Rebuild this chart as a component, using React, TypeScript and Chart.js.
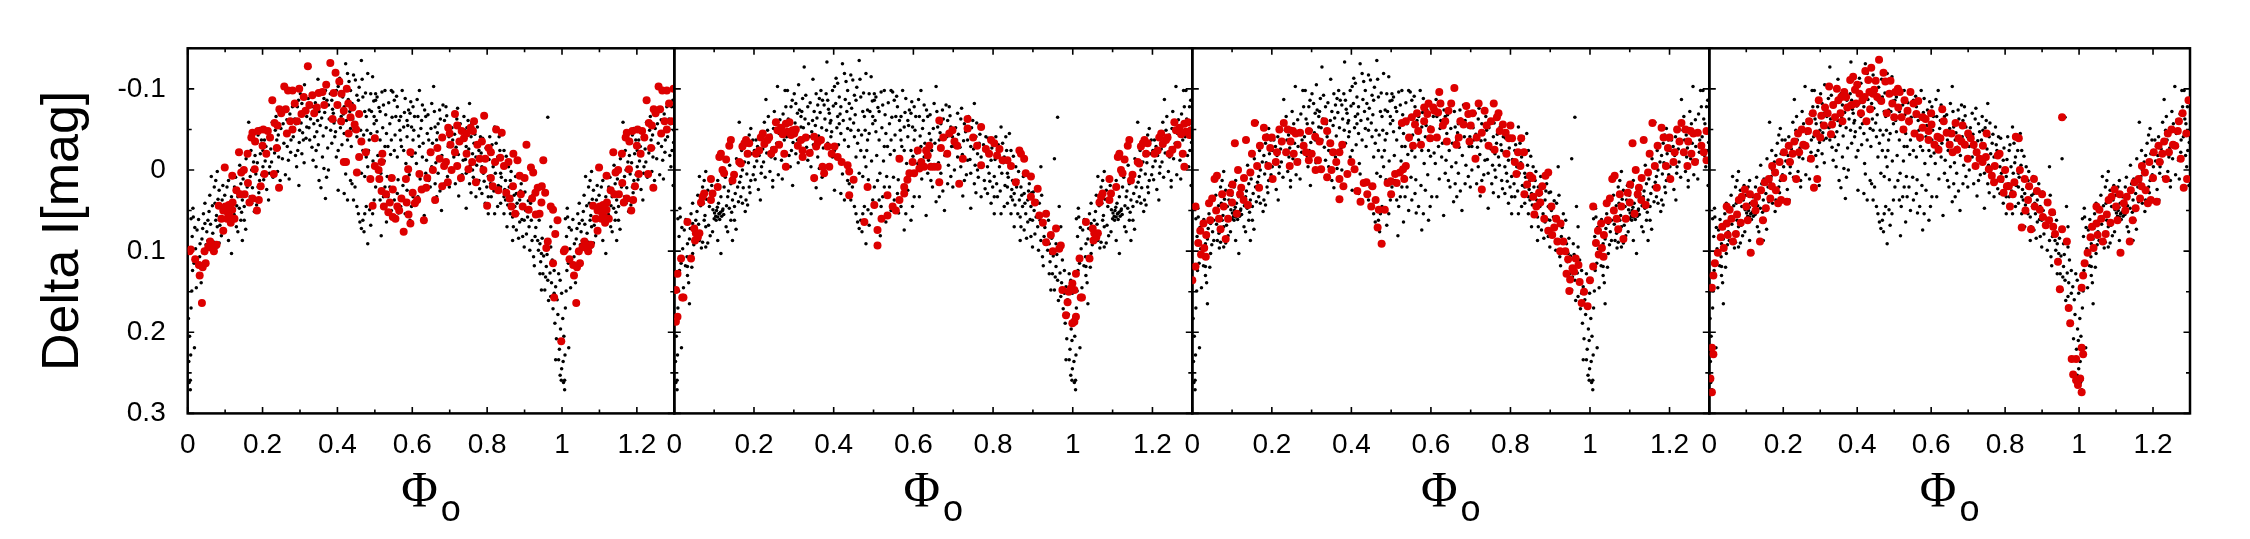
import React, { useEffect, useRef } from "react";
import { Chart, registerables } from "chart.js";

Chart.register(...registerables);

// ---------------- data ----------------
const X_TICKS = [0, 0.2, 0.4, 0.6, 0.8, 1, 1.2];
const X_TICK_LABELS = ["0", "0.2", "0.4", "0.6", "0.8", "1", "1.2"];
const X_MINOR_TICKS = [0.1, 0.3, 0.5, 0.7, 0.9, 1.1];
const Y_TICKS = [-0.1, 0, 0.1, 0.2, 0.3];
const Y_TICK_LABELS = ["-0.1", "0", "0.1", "0.2", "0.3"];
const Y_MINOR_TICKS = [-0.15, -0.05, 0.05, 0.15, 0.25];
const X_MIN = 0;
const X_MAX = 1.3;
const Y_MIN = -0.15;
const Y_MAX = 0.3;
const WRAP_LIMIT = 0.3; // phases below this are plotted again at phase + 1
const Y_TITLE = "Delta I[mag]";
const X_TITLE_MAIN = "\u03A6";
const X_TITLE_SUB = "o";

// all observations (black), [phase, delta I]
const BLACK: number[][] = [
[.007,.259],[.007,.271],[.008,.228],[.018,.219],[.023,.145],[.038,.165],[.013,.124],[.017,.115],[.021,.097],[.033,.091],[.032,.107],[.033,.119],[.033,.13],[.046,.103],[.054,.087],[.04,.072],[.046,.066],[.054,.062],[.042,.054],[.046,.041],[.059,.031],[.063,.008],[.071,.021],[.075,.013],[.079,.002],[.084,.025],[.088,.045],[.092,.037],[.075,.062],[.079,.07],[.067,.078],[.063,.087],[.071,.089],[.079,.095],[.084,.09],[.096,.076],
[.097,.049],[.101,.053],[.104,.057],[.106,.05],[.109,.058],[.112,.054],[.114,.061],[.116,.052],[.119,.057],[.122,.048],[.124,.055],[.1,.06],[.108,.046],
[.002,.183],[.003,.236],[.004,.262],[.005,.205],[.009,.17],[.011,.149],[.012,.082],[.015,.058],[.019,.071],[.025,.074],[.028,.118],[.029,.061],[.036,.139],[.038,.085],[.044,.12],[.049,.092],[.051,.076],[.057,.051],[.061,.067],[.066,.044],[.068,.096],[.073,.041],[.077,.056],[.081,.036],[.086,.068],[.09,.081],[.094,.019],[.099,.031],[.009,.06],[.014,.047],
[.105,.021],[.109,.013],[.117,.033],[.125,.021],[.134,.033],[.142,.017],[.146,.037],[.151,.045],[.159,.021],[.167,.008],[.171,.0],[.176,-.01],[.18,-.018],[.184,-.033],[.188,-.043],[.192,-.051],[.197,-.037],[.201,-.024],[.163,-.059],[.167,.033],[.171,.041],[.18,.037],[.184,.043],[.188,.021],[.192,.013],[.201,-.004],[.151,.062],[.146,.087],[.117,.103],[.109,.087],[.105,.062],[.113,.054],[.121,.05],[.138,.047],[.142,.062],[.13,.07],[.134,.076],
[.111,.041],[.128,.009],[.131,.044],[.136,.026],[.139,-.006],[.144,.052],[.148,.011],[.153,.029],[.156,-.014],[.161,.039],[.164,.015],[.169,-.024],[.173,.022],[.178,.051],[.182,.005],[.186,-.009],[.19,.028],[.194,-.02],[.198,.006],[.155,.073],
[.205,-.037],[.209,-.029],[.213,-.018],[.216,.037],[.219,-.004],[.224,-.01],[.226,-.059],[.23,-.087],[.234,-.049],[.238,-.037],[.243,-.016],[.247,.013],[.247,.021],[.251,-.072],[.255,-.057],[.259,-.103],[.263,-.045],[.266,-.029],[.269,-.012],[.276,-.037],[.278,-.098],[.28,-.078],[.284,-.098],[.289,-.057],[.291,-.004],[.293,-.078],[.294,-.024],[.297,.019],[.299,-.049],
[.203,.012],[.207,-.011],[.211,.024],[.215,-.041],[.218,.004],[.222,-.026],[.228,.009],[.232,-.021],[.236,-.066],[.24,.002],[.242,-.043],[.245,-.027],[.249,-.051],[.253,-.014],[.257,-.033],[.261,.006],[.265,-.062],[.268,-.047],[.271,.011],[.273,-.069],[.275,-.022],[.282,-.041],[.286,-.063],[.288,-.018],[.296,-.086],[.298,-.034],
[.301,-.094],[.305,-.082],[.309,-.07],[.314,-.074],[.318,-.066],[.322,-.088],[.326,-.127],[.33,-.092],[.335,-.078],[.339,-.041],[.343,-.024],[.347,-.061],[.351,-.072],[.356,-.094],[.36,-.08],[.364,-.088],[.368,-.098],[.372,-.086],[.376,-.08],[.381,-.094],[.385,-.086],[.389,-.07],[.393,-.061],[.397,-.098],[.305,-.02],[.309,-.037],[.318,-.053],[.326,-.037],[.335,-.012],[.343,-.004],[.351,.013],[.36,-.016],[.368,.035],[.376,.0],[.385,-.033],[.393,-.041],[.397,-.016],[.383,-.133],
[.303,-.058],[.307,-.046],[.311,-.009],[.316,-.039],[.32,-.072],[.324,-.052],[.328,-.063],[.332,-.028],[.337,-.057],[.341,-.083],[.345,-.047],[.349,-.031],[.354,-.055],[.358,-.064],[.362,-.042],[.366,-.071],[.37,-.052],[.374,-.027],[.378,-.063],[.382,-.049],[.387,-.075],[.391,-.058],[.395,-.047],[.399,-.079],[.356,.022],[.371,.009],[.364,-.002],[.312,-.105],[.348,-.112],
[.402,-.103],[.402,-.024],[.406,-.113],[.41,-.107],[.414,-.09],[.418,-.078],[.422,-.131],[.427,-.119],[.431,-.109],[.435,-.098],[.439,-.082],[.443,-.117],[.448,-.111],[.452,-.092],[.456,-.086],[.464,-.135],[.468,-.09],[.473,-.072],[.477,-.066],[.481,-.119],[.485,-.074],[.489,-.094],[.494,-.115],[.498,-.066],[.41,-.066],[.414,-.057],[.418,-.045],[.427,-.037],[.435,-.051],[.443,-.049],[.452,-.041],[.46,-.033],[.468,-.024],[.477,-.016],[.485,-.037],[.489,-.045],[.498,-.057],
[.402,.025],[.418,.029],[.427,.037],[.435,.013],[.439,.017],[.443,.037],[.452,.045],[.456,.054],[.46,.064],[.464,.072],[.468,.062],[.473,.054],[.477,.045],[.481,.091],[.489,.068],[.494,.054],[.498,.037],[.464,.004],[.456,-.016],[.473,.008],[.481,-.004],
[.405,-.082],[.408,-.052],[.412,-.031],[.416,-.069],[.42,-.008],[.424,-.061],[.429,-.087],[.433,-.072],[.437,-.029],[.441,-.063],[.445,-.076],[.45,-.058],[.454,-.068],[.458,-.102],[.462,-.049],[.466,-.112],[.47,-.043],[.475,-.095],[.479,-.049],[.483,-.024],[.487,.012],[.491,-.072],[.495,-.011],[.497,-.085],[.422,.005],[.447,.021],[.471,.076],[.486,.049],
[.502,-.094],[.502,-.086],[.502,.021],[.506,-.09],[.514,-.072],[.519,-.096],[.523,-.08],[.527,-.098],[.535,-.029],[.54,-.057],[.544,-.098],[.548,-.096],[.552,-.086],[.556,-.066],[.56,-.078],[.565,-.061],[.569,-.066],[.573,-.098],[.577,-.053],[.581,-.088],[.586,-.061],[.59,-.074],[.594,-.07],[.598,-.053],
[.51,.013],[.514,.037],[.519,.045],[.523,.033],[.527,.021],[.535,.033],[.54,.021],[.544,.05],[.552,.037],[.56,.029],[.569,.045],[.577,.074],[.581,.054],[.586,.025],[.594,.062],[.598,.045],[.506,-.047],[.514,-.037],[.527,-.029],[.531,-.045],[.544,-.037],[.552,-.024],[.56,-.016],[.569,-.037],[.577,-.024],[.586,-.041],[.594,-.024],
[.504,-.061],[.508,-.018],[.511,-.077],[.516,.004],[.521,-.052],[.525,-.011],[.529,-.068],[.533,.008],[.537,-.083],[.542,-.019],[.546,-.065],[.55,.009],[.554,-.043],[.558,-.091],[.562,.012],[.567,-.049],[.571,-.029],[.575,.019],[.579,-.071],[.583,-.008],[.588,-.055],[.592,.006],[.596,-.084],[.599,-.017],[.531,.064],[.563,.053],[.517,.081],
[.602,-.078],[.602,.033],[.602,-.037],[.606,-.066],[.615,-.066],[.619,-.098],[.623,-.051],[.627,-.08],[.636,-.066],[.64,-.045],[.644,-.037],[.652,-.082],[.657,-.103],[.661,-.053],[.665,-.037],[.669,-.057],[.673,-.074],[.682,-.08],[.686,-.061],[.69,-.078],[.694,-.053],[.698,-.041],[.611,-.008],[.619,-.029],[.627,-.016],[.636,.004],[.644,.013],[.652,-.004],[.661,.017],[.669,.004],[.678,.05],[.686,.017],[.694,.008],[.615,.033],[.632,.056],[.648,.021],[.665,.033],
[.604,-.049],[.608,-.021],[.613,-.087],[.617,-.042],[.621,.011],[.625,-.061],[.629,-.033],[.633,-.074],[.638,-.012],[.642,-.068],[.646,-.024],[.65,-.051],[.654,-.033],[.659,-.072],[.663,-.009],[.667,-.046],[.671,-.028],[.675,-.063],[.679,-.018],[.684,-.041],[.688,-.006],[.692,-.067],[.696,-.029],[.699,.021],[.674,.026],[.657,.039],
[.703,-.029],[.703,.0],[.711,-.07],[.719,-.063],[.728,-.057],[.736,-.037],[.74,-.049],[.744,-.029],[.749,-.061],[.753,-.082],[.757,-.041],[.761,-.02],[.765,-.033],[.77,-.016],[.774,-.053],[.778,-.024],[.782,-.041],[.786,-.004],[.79,.004],[.795,-.012],[.799,.021],[.711,-.016],[.719,-.004],[.728,.013],[.736,-.012],[.744,.004],[.753,.017],[.761,.0],[.77,.033],[.778,.013],[.786,.029],[.795,.041],[.715,.017],[.744,.047],
[.706,-.052],[.708,-.037],[.713,-.044],[.717,-.028],[.721,-.076],[.723,-.019],[.726,-.036],[.731,-.047],[.733,.006],[.738,-.066],[.742,-.013],[.746,-.052],[.751,-.026],[.755,-.006],[.759,-.058],[.763,.009],[.767,-.044],[.772,-.006],[.776,-.031],[.78,.023],[.784,-.021],[.788,-.039],[.792,.014],[.797,-.027],[.724,.032],[.757,.028],
[.803,.008],[.803,.054],[.803,.033],[.807,-.041],[.811,-.024],[.816,-.004],[.82,-.053],[.824,-.033],[.828,-.016],[.832,-.041],[.836,.004],[.841,-.045],[.845,-.024],[.849,.013],[.853,.029],[.857,-.004],[.862,.013],[.866,.037],[.87,.021],[.874,.045],[.878,.029],[.882,.054],[.887,.037],[.891,.017],[.895,.045],[.899,.062],[.811,.033],[.82,.054],[.828,.045],[.836,.041],[.845,.054],[.849,.037],[.853,.07],[.862,.054],[.87,.07],[.878,.074],[.887,.064],[.895,.082],[.899,.095],[.836,.021],[.845,.033],
[.805,-.013],[.809,.017],[.813,-.031],[.818,.026],[.822,.004],[.826,-.009],[.83,.019],[.834,-.024],[.838,.009],[.843,-.006],[.847,.024],[.851,-.017],[.855,.043],[.859,.021],[.864,.002],[.868,.058],[.872,.031],[.876,.008],[.88,.041],[.884,.084],[.889,.026],[.893,.061],[.897,.028],[.868,.087],
[.903,.05],[.908,.058],[.912,.07],[.916,.041],[.92,-.004],[.92,.087],[.924,.107],[.928,.082],[.933,.054],[.937,.099],[.941,.091],[.945,.103],[.949,.128],[.954,.148],[.958,.119],[.962,.136],[.966,.045],[.97,.095],[.974,.111],[.979,.124],[.983,.144],[.987,.16],[.991,.128],[.995,.136],[.954,-.014],[.962,-.065],[.941,.128],[.945,.148],[.97,.156],[.979,.152],[.983,.234],[.991,.234],[.995,.253],[.998,.259],[.97,.07],[.958,.091],[.999,.152],[.998,.21],
[.901,.027],[.905,.079],[.91,.038],[.914,.099],[.918,.062],[.922,.031],[.926,.118],[.93,.071],[.935,.087],[.939,.062],[.943,.113],[.947,.084],[.951,.106],[.956,.132],[.96,.104],[.964,.161],[.968,.127],[.972,.139],[.976,.171],[.981,.189],[.985,.208],[.989,.178],[.993,.221],[.996,.196],[.999,.245]
];

// selected subset per panel (red), [phase, delta I]
const RED_1: number[][] = [
[.005,.1],[.008,.098],[.02,.11],[.03,.117],[.032,.13],[.038,.164],[.04,.12],[.045,.1],[.048,.115],[.055,.095],[.06,.088],[.065,.096],[.07,.1],[.077,.092],[.083,.044],[.09,.06],[.095,.075],[.095,.05],[.099,-.003],[.101,.045],[.105,.06],[.107,.052],[.11,.043],[.113,.058],[.115,.065],[.119,.049],[.119,.007],[.12,.04],[.125,.06],[.13,.025],[.137,-.022],[.14,.03],[.143,.003],[.15,.0],[.152,.03],[.16,-.02],[.161,.016],[.165,.04],[.17,-.04],[.173,.035],[.173,-.046],[.179,-.001],[.18,-.035],[.185,.05],[.188,-.048],[.19,.037],[.195,.02],[.2,-.03],[.202,-.05],[.205,.005],[.21,-.02],[.214,-.048],[.22,-.04],[.226,-.086],[.23,.005],[.232,-.058],[.238,-.027],[.24,-.055],[.244,.022],[.245,-.075],[.25,-.07],[.258,-.103],[.262,-.075],[.265,-.045],[.268,-.098],[.274,-.06],[.28,-.098],[.28,-.05],[.286,-.082],[.292,-.06],[.298,-.1],
[.304,-.069],[.31,-.09],[.315,-.073],[.321,-.128],[.325,-.08],[.333,-.092],[.338,-.07],[.345,-.077],[.35,-.095],[.36,-.096],[.365,-.08],[.37,-.105],[.381,-.132],[.387,-.063],[.39,-.095],[.395,-.12],[.4,-.08],[.405,-.109],[.41,-.06],[.411,-.094],[.417,-.073],[.417,-.01],[.423,-.01],[.425,-.1],[.429,-.082],[.43,-.045],[.435,-.065],[.44,-.077],[.446,-.056],[.45,-.05],[.452,.003],[.458,-.069],[.458,-.016],[.464,-.035],[.476,-.022],[.488,.011],[.494,.044],[.5,-.005],[.5,-.039],
[.51,.0],[.512,.011],[.518,-.01],[.518,.026],[.52,-.02],[.524,.045],[.53,.03],[.536,.052],[.54,.04],[.545,.01],[.548,.024],[.548,.058],[.555,.06],[.56,.045],[.565,.05],[.571,.035],[.577,.076],[.583,.011],[.585,.04],[.589,-.001],[.59,.055],[.595,-.022],[.595,.066],[.601,.028],[.607,.041],[.613,.037],[.619,.005],[.625,.024],[.631,.062],[.637,.022],[.64,.01],[.649,-.022],[.655,.0],[.661,.037],[.667,-.027],[.673,-.014],[.68,.02],[.68,-.04],[.685,-.005],[.69,-.01],[.695,.015],[.696,-.052],
[.7,-.045],[.702,-.031],[.705,.0],[.714,-.069],[.714,-.022],[.72,-.005],[.72,-.055],[.726,-.035],[.73,.01],[.732,-.048],[.738,-.039],[.745,-.02],[.745,-.045],[.75,-.001],[.756,-.052],[.76,-.01],[.762,-.048],[.765,-.06],[.77,.015],[.774,-.031],[.78,-.014],[.786,-.035],[.79,.0],[.792,-.067],[.795,-.014],[.8,.044],[.804,-.027],[.81,-.022],[.81,.01],[.815,.02],[.821,-.01],[.824,-.05],[.83,.025],[.835,-.015],[.839,-.046],[.845,-.005],[.851,.028],[.857,-.01],[.86,.035],[.865,.045],[.869,.02],[.87,-.02],[.875,.054],[.881,-.012],[.887,.007],[.89,.03],[.895,.045],
[.9,.01],[.905,-.031],[.911,.049],[.917,-.003],[.92,.035],[.923,.003],[.929,.028],[.93,.055],[.935,.022],[.94,.054],[.945,.04],[.946,.02],[.95,-.012],[.955,.028],[.958,.096],[.962,.088],[.97,.045],[.976,.049],[.976,.115],[.979,.157],[.982,.079],[.988,.062],[.998,.211]
];

const RED_2: number[][] = [
[.004,.148],[.004,.187],[.008,.128],[.008,.181],[.017,.109],[.02,.157],[.023,.157],[.033,.064],[.042,.109],[.05,.072],[.052,.087],[.054,.078],[.059,.083],[.063,.078],[.067,.04],[.071,.033],[.075,.029],[.092,.011],[.092,.037],[.096,.029],[.109,.021],[.113,-.016],[.117,-.02],[.121,.0],[.125,.004],[.13,-.013],[.138,-.03],[.142,-.037],[.146,.013],[.15,.006],[.163,-.01],[.167,-.008],[.171,-.029],[.176,-.033],[.18,-.037],[.184,-.02],[.188,-.033],
[.205,-.02],[.213,-.024],[.217,-.04],[.222,-.045],[.226,-.032],[.234,-.037],[.238,-.04],[.243,-.02],[.25,-.025],[.255,-.059],[.259,-.049],[.263,-.031],[.268,-.052],[.272,-.044],[.276,-.02],[.28,-.057],[.28,-.004],[.284,-.047],[.289,-.059],[.293,-.043],[.297,-.049],
[.301,-.045],[.305,-.05],[.31,-.03],[.318,-.037],[.322,-.024],[.322,-.016],[.33,-.04],[.34,-.021],[.351,-.041],[.356,-.029],[.351,.01],[.36,-.034],[.368,-.037],[.372,-.004],[.376,.004],[.385,-.029],[.389,-.004],[.395,-.02],[.402,-.029],[.41,-.016],[.42,-.01],[.435,-.006],[.439,.031],[.439,.002],[.45,.012],[.477,.064],[.485,.021],
[.502,.043],[.51,.074],[.51,.093],[.52,.06],[.535,.031],[.535,.056],[.548,.045],[.556,.05],[.565,-.014],[.565,.037],[.577,.021],[.577,.029],[.585,.012],[.59,.004],[.598,-.01],
[.602,.004],[.611,-.024],[.615,-.002],[.62,-.01],[.627,-.004],[.632,-.024],[.636,-.018],[.64,-.03],[.644,-.004],[.652,-.004],[.661,-.004],[.665,-.061],[.669,-.027],[.665,.015],[.675,-.04],[.685,-.02],[.69,-.045],[.698,-.049],
[.703,-.035],[.71,-.03],[.715,.017],[.724,-.014],[.736,-.063],[.736,-.051],[.75,-.04],[.76,-.03],[.77,-.053],[.77,-.006],[.782,-.026],[.79,-.02],[.795,-.037],
[.803,-.033],[.81,-.018],[.816,-.026],[.824,-.012],[.836,-.012],[.845,-.005],[.857,.015],[.866,-.024],[.87,-.02],[.878,-.014],[.882,.004],[.895,.008],[.895,.033],
[.905,.04],[.912,.023],[.916,.056],[.925,.065],[.933,.054],[.933,.089],[.945,.08],[.95,.1],[.958,.072],[.966,.097],[.97,.093],[.974,.148],[.983,.179],[.987,.163],[.99,.15],[.995,.146],[.999,.14],[.999,.189]
];

const RED_3: number[][] = [
[.0,.136],[.008,.119],[.008,.045],[.015,.09],[.02,.075],[.022,.104],[.028,.066],[.03,.096],[.034,.107],[.035,.08],[.042,.041],[.045,.062],[.05,.035],[.056,.011],[.06,.05],[.062,.007],[.067,.06],[.071,.073],[.075,.03],[.079,.045],[.084,.085],[.09,.06],[.095,.028],[.1,.04],[.101,.018],[.107,-.033],[.112,.054],[.115,.0],[.12,.03],[.123,.022],[.129,.037],[.13,.01],[.135,-.037],[.14,.043],[.146,.003],[.15,-.02],[.157,-.058],[.163,-.005],[.168,.022],[.17,-.03],[.18,-.052],[.185,-.04],[.191,-.005],[.196,-.027],
[.2,-.04],[.202,.011],[.21,-.01],[.213,-.022],[.219,-.05],[.225,-.035],[.23,-.058],[.236,-.022],[.24,-.05],[.245,-.005],[.247,-.035],[.253,-.048],[.255,-.02],[.26,-.045],[.264,-.01],[.271,-.046],[.28,-.03],[.286,-.022],[.293,-.048],[.293,-.012],
[.3,-.02],[.309,-.041],[.31,.0],[.316,-.012],[.32,-.035],[.324,-.001],[.332,-.06],[.339,-.048],[.339,.009],[.347,-.033],[.35,.0],[.354,-.022],[.362,-.01],[.37,-.022],[.37,.011],[.37,.036],[.377,-.031],[.38,.02],[.39,.005],[.4,-.01],[.408,-.001],[.415,.026],[.423,.039],[.431,.016],[.438,.015],[.44,.03],[.45,.045],[.453,.02],[.461,.037],[.466,.071],[.469,.049],[.476,.091],[.484,.049],[.491,.016],[.499,.014],
[.5,.03],[.51,.005],[.514,.016],[.522,.003],[.527,-.058],[.53,-.001],[.533,.011],[.537,-.005],[.537,-.06],[.545,-.04],[.552,-.065],[.555,-.03],[.56,-.056],[.565,-.07],[.568,-.048],[.575,-.031],[.583,-.06],[.583,-.077],[.591,-.069],[.594,-.082],[.598,-.039],
[.6,-.05],[.606,-.077],[.609,-.073],[.615,-.04],[.618,-.071],[.621,-.096],[.624,-.082],[.63,-.055],[.636,-.06],[.64,-.035],[.644,-.073],[.651,-.082],[.659,-.101],[.664,-.031],[.67,-.04],[.674,-.06],[.682,-.056],[.689,-.079],[.694,-.069],[.697,-.035],
[.7,-.055],[.705,-.07],[.712,-.014],[.715,-.04],[.72,-.082],[.728,.024],[.728,-.046],[.735,-.073],[.74,-.055],[.745,-.03],[.751,-.06],[.758,-.082],[.76,-.025],[.766,-.065],[.77,-.07],[.773,-.048],[.781,-.056],[.788,-.046],[.79,-.02],[.796,-.039],
[.8,-.055],[.804,-.039],[.811,-.01],[.815,.005],[.819,-.022],[.825,-.005],[.827,-.039],[.834,-.022],[.835,.03],[.842,.018],[.849,.007],[.855,.01],[.857,.033],[.86,.055],[.865,.045],[.872,.028],[.875,.04],[.88,.02],[.885,.06],[.888,.007],[.895,.003],[.895,.075],
[.903,.045],[.905,.08],[.91,.071],[.915,.06],[.918,.088],[.925,.1],[.926,.066],[.933,.088],[.938,.1],[.941,.128],[.945,.11],[.948,.149],[.95,.135],[.956,.121],[.96,.125],[.964,.109],[.971,.117],[.974,.138],[.979,.164],[.985,.15],[.994,.168]
];

const RED_4: number[][] = [
[.003,.257],[.007,.219],[.007,.274],[.007,.145],[.011,.227],[.011,.13],[.015,.115],[.023,.102],[.031,.083],[.035,.07],[.039,.096],[.047,.066],[.047,.045],[.05,.08],[.055,.049],[.06,.06],[.064,.088],[.072,.079],[.075,.055],[.08,.037],[.085,.065],[.088,.033],[.096,.024],[.1,.045],[.104,.062],[.11,.03],[.112,.102],[.121,.041],[.125,.05],[.129,.033],[.137,.088],[.14,.025],[.145,.062],[.15,.015],[.153,.047],[.161,.011],[.165,.035],[.169,.02],[.17,-.005],[.178,.003],[.18,.025],[.186,.041],[.19,-.01],[.194,.037],
[.2,.01],[.202,-.022],[.21,.039],[.215,-.03],[.218,-.01],[.225,-.02],[.23,-.035],[.235,.011],[.24,-.045],[.243,-.022],[.25,-.05],[.254,-.031],[.26,-.03],[.267,-.048],[.27,-.06],[.275,-.014],[.28,-.07],[.283,.022],[.29,-.045],[.292,.011],[.296,-.086],
[.3,-.04],[.303,-.067],[.31,-.055],[.313,-.077],[.32,-.07],[.324,-.103],[.329,-.044],[.332,-.056],[.335,-.08],[.34,-.065],[.345,-.1],[.349,-.086],[.355,-.07],[.357,-.09],[.36,-.06],[.365,-.096],[.37,-.09],[.373,-.077],[.381,-.111],[.385,-.08],[.389,-.115],[.394,-.099],[.397,-.082],
[.4,-.105],[.406,-.094],[.41,-.07],[.414,-.086],[.42,-.09],[.422,-.122],[.425,-.06],[.43,-.111],[.433,-.096],[.435,-.075],[.438,-.126],[.443,-.094],[.446,-.099],[.45,-.11],[.454,-.09],[.459,-.136],[.465,-.085],[.471,-.12],[.476,-.109],[.48,-.07],[.487,-.094],[.49,-.11],[.495,-.082],
[.5,-.065],[.503,-.096],[.51,-.1],[.511,-.077],[.515,-.096],[.52,-.065],[.525,-.05],[.528,-.086],[.536,-.073],[.54,-.06],[.544,-.096],[.552,-.082],[.555,-.045],[.56,-.069],[.565,-.085],[.57,-.04],[.577,-.065],[.577,-.052],[.585,-.063],[.593,-.048],[.593,-.037],
[.6,-.07],[.601,-.056],[.609,-.031],[.617,-.041],[.62,-.025],[.625,-.039],[.63,-.075],[.634,-.06],[.642,-.046],[.65,-.031],[.655,-.045],[.658,-.022],[.666,-.058],[.67,-.025],[.674,-.039],[.682,-.035],[.685,-.055],[.691,-.031],[.699,-.014],
[.7,-.045],[.707,-.039],[.715,-.031],[.72,-.005],[.723,-.022],[.731,-.014],[.739,-.01],[.74,-.03],[.748,-.016],[.75,-.045],[.756,-.001],[.764,.007],[.77,.015],[.772,-.005],[.78,-.018],[.785,-.02],[.788,.011],[.796,.028],
[.8,.0],[.805,.02],[.81,.02],[.813,.045],[.821,.03],[.825,.015],[.829,-.041],[.837,-.039],[.84,.0],[.845,.071],[.853,.011],[.855,.05],[.862,.037],[.865,.02],[.87,.073],[.878,.011],[.88,.045],[.886,.026],[.894,.049],
[.9,.03],[.902,.058],[.91,.068],[.915,.04],[.919,.062],[.927,.052],[.93,.07],[.935,.079],[.943,.113],[.948,.147],[.954,-.065],[.954,.073],[.967,.088],[.972,.17],[.976,.189],[.98,.233],[.984,.252],[.992,.233],[.992,.259],[.997,.265]
];

const REDS = [RED_1, RED_2, RED_3, RED_4];

// ---------------- layout / style ----------------
const W = 2250;
const H = 539;
const PANEL_LEFT = [187.7, 674.3, 1192.3, 1709.3];
const PANEL_RIGHT = [674.3, 1192.3, 1709.3, 2190];
const PLOT_TOP = 48.3;
const PLOT_BOTTOM = 413.4;
const Y_AXIS_W = 150;
const X_AXIS_H = 80;
const RED = "#dd0000";
const RED_RADIUS = 4;
const BLACK_RADIUS = 1.75;
const SANS = "'Liberation Sans', Arial, Helvetica, sans-serif";
const SERIF = "'Liberation Serif', 'Times New Roman', serif";

function toPoints(pts: number[][]) {
  const out = pts.map(([x, y]) => ({ x, y }));
  // gnuplot-style repetition: phases below WRAP_LIMIT are shown again after phase 1
  for (const [x, y] of pts) if (x < WRAP_LIMIT) out.push({ x: x + 1, y });
  return out;
}

const framePlugin = {
  id: "gnuFrame",
  beforeDatasetsDraw(chart: any) {
    const { ctx, chartArea: a, scales } = chart;
    const xs = scales.x;
    const ys = scales.y;
    ctx.save();
    ctx.strokeStyle = "#000";
    ctx.lineWidth = 1.6;
    ctx.beginPath();
    const xTick = (v: number, len: number) => {
      const p = xs.getPixelForValue(v);
      ctx.moveTo(p, a.bottom);
      ctx.lineTo(p, a.bottom - len);
      ctx.moveTo(p, a.top);
      ctx.lineTo(p, a.top + len);
    };
    const yTick = (v: number, len: number) => {
      const p = ys.getPixelForValue(v);
      ctx.moveTo(a.left, p);
      ctx.lineTo(a.left + len, p);
      ctx.moveTo(a.right, p);
      ctx.lineTo(a.right - len, p);
    };
    X_TICKS.forEach((v) => xTick(v, 6.5));
    X_MINOR_TICKS.forEach((v) => xTick(v, 4));
    Y_TICKS.forEach((v) => yTick(v, 6.5));
    Y_MINOR_TICKS.forEach((v) => yTick(v, 4));
    ctx.stroke();
    ctx.lineWidth = 2.5;
    ctx.strokeRect(a.left, a.top, a.right - a.left, a.bottom - a.top);
    ctx.restore();
  },
  afterDraw(chart: any, _args: any, opts: any) {
    const { ctx, chartArea: a } = chart;
    ctx.save();
    ctx.fillStyle = "#000";
    ctx.textAlign = "left";
    ctx.textBaseline = "alphabetic";
    const phiFont = `50px ${SERIF}`;
    const subFont = `36px ${SANS}`;
    ctx.font = phiFont;
    const wPhi = ctx.measureText(X_TITLE_MAIN).width;
    ctx.font = subFont;
    const wSub = ctx.measureText(X_TITLE_SUB).width;
    const gap = 3;
    const cx = (a.left + a.right) / 2;
    const start = cx - (wPhi + gap + wSub) / 2;
    ctx.font = phiFont;
    ctx.fillText(X_TITLE_MAIN, start, a.bottom + 93);
    ctx.font = subFont;
    ctx.fillText(X_TITLE_SUB, start + wPhi + gap, a.bottom + 107.5);
    if (opts && opts.yTitle) {
      ctx.translate(a.left - 109.4, (a.top + a.bottom) / 2);
      ctx.rotate(-Math.PI / 2);
      ctx.textAlign = "center";
      ctx.font = `52px ${SANS}`;
      ctx.fillText(Y_TITLE, 0, 0);
    }
    ctx.restore();
  },
};

function Panel({ index }: { index: number }) {
  const ref = useRef<HTMLCanvasElement>(null);
  useEffect(() => {
    const canvas = ref.current;
    if (!canvas) return;
    const showY = index === 0;
    const yW = showY ? Y_AXIS_W : 0;
    const chart = new Chart(canvas, {
      type: "scatter",
      data: {
        datasets: [
          {
            data: toPoints(REDS[index]),
            backgroundColor: RED,
            borderWidth: 0,
            pointRadius: RED_RADIUS,
            pointHoverRadius: RED_RADIUS,
          },
          {
            data: toPoints(BLACK),
            backgroundColor: "#000",
            borderWidth: 0,
            pointRadius: BLACK_RADIUS,
            pointHoverRadius: BLACK_RADIUS,
          },
        ],
      },
      options: {
        animation: false,
        responsive: false,
        devicePixelRatio: 1,
        events: [],
        layout: {
          padding: {
            left: PANEL_LEFT[index] - yW,
            right: W - PANEL_RIGHT[index],
            top: PLOT_TOP,
            bottom: H - PLOT_BOTTOM - X_AXIS_H,
          },
        },
        plugins: {
          legend: { display: false },
          tooltip: { enabled: false },
          title: { display: false },
          gnuFrame: { yTitle: showY },
        } as any,
        scales: {
          x: {
            type: "linear",
            min: X_MIN,
            max: X_MAX,
            grid: { display: false, drawTicks: false, tickLength: 0 },
            border: { display: false },
            afterBuildTicks: (s: any) => {
              s.ticks = X_TICKS.map((v) => ({ value: v }));
            },
            afterFit: (s: any) => {
              s.height = X_AXIS_H;
            },
            ticks: {
              autoSkip: false,
              maxRotation: 0,
              minRotation: 0,
              padding: 15,
              color: "#000",
              font: { size: 28, family: SANS },
              callback: (_v: any, i: number) => X_TICK_LABELS[i],
            },
          },
          y: {
            type: "linear",
            reverse: true,
            min: Y_MIN,
            max: Y_MAX,
            display: showY,
            grid: { display: false, drawTicks: false, tickLength: 0 },
            border: { display: false },
            afterBuildTicks: (s: any) => {
              s.ticks = Y_TICKS.map((v) => ({ value: v }));
            },
            afterFit: (s: any) => {
              s.width = yW;
            },
            ticks: {
              autoSkip: false,
              padding: 22,
              color: "#000",
              font: { size: 28, family: SANS },
              callback: (_v: any, i: number) => Y_TICK_LABELS[i],
            },
          },
        } as any,
      },
      plugins: [framePlugin as any],
    });
    return () => chart.destroy();
  }, [index]);
  return (
    <canvas
      ref={ref}
      width={W}
      height={H}
      style={{ position: "absolute", left: 0, top: 0, width: W, height: H }}
    />
  );
}

export default function App() {
  return (
    <div style={{ position: "absolute", left: 0, top: 0, width: W, height: H, background: "#fff", overflow: "hidden" }}>
      {[0, 1, 2, 3].map((i) => (
        <Panel key={i} index={i} />
      ))}
    </div>
  );
}
